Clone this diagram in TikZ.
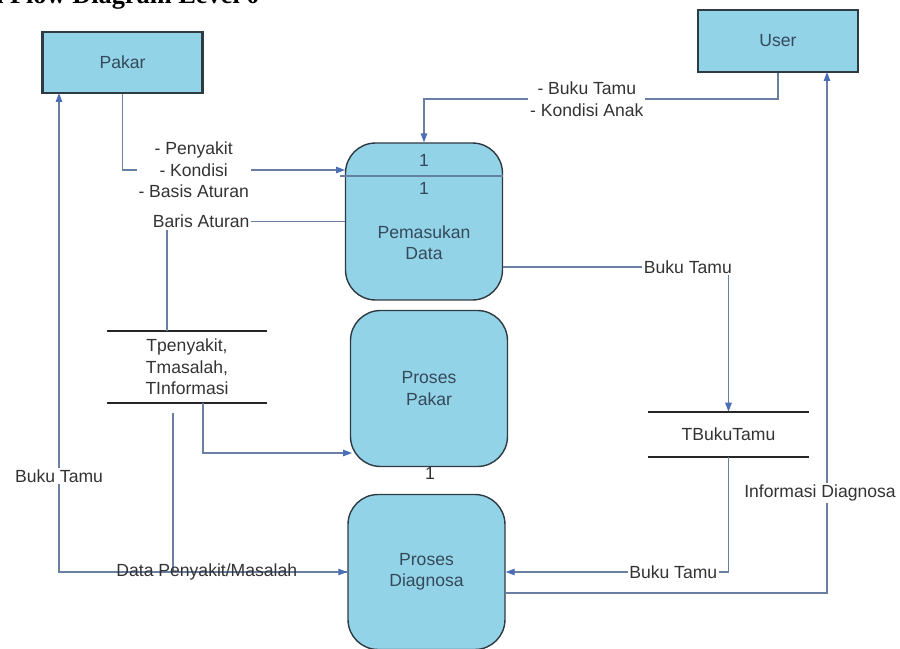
\documentclass[tikz,border=0pt]{standalone}
\usepackage{fontspec}
\setmainfont{Liberation Sans}
\newfontfamily\titlefont{Liberation Serif}
\usetikzlibrary{arrows.meta}

\definecolor{boxblue}{HTML}{93D3E8}
\definecolor{boxedge}{HTML}{2E3B42}
\definecolor{boxtext}{HTML}{34495A}
\definecolor{flowline}{HTML}{6A80A3}
\definecolor{tipblue}{HTML}{4A6FB5}
\definecolor{labelgray}{HTML}{333333}

\tikzset{
  entity/.style={draw=boxedge, fill=boxblue, line width=1.2pt, minimum width=3.2cm, minimum height=1.22cm, text=boxtext},
  process/.style={draw=boxedge, fill=boxblue, line width=0.8pt, rounded corners=0.6cm, minimum width=3.14cm, minimum height=3.12cm, align=center, text=boxtext},
  storelabel/.style={minimum width=3.2cm, align=center, text=labelgray},
  storeline/.style={draw=black!85, line width=1pt},
  flow/.style={draw=flowline, line width=0.7pt},
  arrowflow/.style={flow, -{Triangle[length=0.18cm, width=0.13cm, color=tipblue]}},
  flowlabel/.style={fill=white, inner sep=1pt, align=center, text=labelgray},
}

\begin{document}
\begin{tikzpicture}[x=0.02cm, y=-0.02cm, font=\fontsize{10}{12.2}\selectfont]
    \useasboundingbox (0,0) rectangle (900,649);

    % Title (cut at the top edge)
    \node[font=\titlefont\bfseries\fontsize{15}{18}\selectfont, anchor=base east, inner sep=0pt] (title) at (260,4) {Data Flow Diagram Level 0};

    % External entities
    \node[entity] (pakar) at (122.5,62.5) {Pakar};
    \node[entity, minimum height=1.24cm] (user) at (778,41) {User};

    % Processes
    \node[process, minimum height=3.14cm] (pem) at (424,221.5) {};
    \draw[flow] (340,176) -- (pem.east |- 0,176);
    \node[text=boxtext] (pemno) at (424,160) {1};
    \node[text=boxtext] (pemid) at (424,188) {1};
    \node[text=boxtext, align=center] (pemtxt) at (424,243) {Pemasukan\\Data};

    \node[process] (pakarp) at (429,388.5) {Proses\\Pakar};
    \node[text=labelgray] (pakarno) at (430,473) {1};

    \node[process, minimum height=3.1cm] (diag) at (426.5,572) {Proses\\Diagnosa};

    % Data stores
    \node[storelabel, minimum height=1.44cm] (tp) at (187,367) {Tpenyakit,\\Tmasalah,\\TInformasi};
    \draw[storeline] (tp.north west) -- (tp.north east) (tp.south west) -- (tp.south east);

    \node[storelabel, minimum width=3.22cm, minimum height=0.9cm] (tb) at (728.5,434.5) {TBukuTamu};
    \draw[storeline] (tb.north west) -- (tb.north east) (tb.south west) -- (tb.south east);

    % Free ends
    \coordinate (pemin) at (345,170);
    \coordinate (pemout) at (503,267);
    \coordinate (tpup) at (167,331);
    \coordinate (tpout) at (203,403);
    \coordinate (tpdown) at (173,413);
    \coordinate (pakarpin) at (352,453);
    \coordinate (pakarin) at (59,93);
    \coordinate (diagout) at (505,593);
    \coordinate (userin) at (827,72);

    % Flows
    \draw[arrowflow] (pakar.south) |- node[flowlabel, pos=0.66] {- Penyakit\\- Kondisi\\- Basis Aturan} (pemin);
    \draw[arrowflow] (user.south) -- ++(0,26) -| node[flowlabel, pos=0.27] {- Buku Tamu\\- Kondisi Anak} (pem.north);
    \draw[arrowflow] (pemout) -| node[flowlabel, pos=0.41] {Buku Tamu} (tb.north);
    \draw[flow] (pem.west) -| node[flowlabel, pos=0.404] {Baris Aturan} (tpup);
    \draw[arrowflow] (tpout) |- (pakarpin);
    \draw[arrowflow] (diag.west) -| node[flowlabel, pos=0.6] {Buku Tamu} (pakarin);
    \draw[arrowflow] (tpdown) |- node[pos=0.597, text=labelgray] {Data Penyakit/Masalah} (diag.west);
    \draw[arrowflow] (tb.south) |- node[flowlabel, pos=0.624] {Buku Tamu} (diag.east);
    \draw[arrowflow] (diagout) -| node[flowlabel, pos=0.596, xshift=-0.14cm] {Informasi Diagnosa} (userin);
\end{tikzpicture}
\end{document}
